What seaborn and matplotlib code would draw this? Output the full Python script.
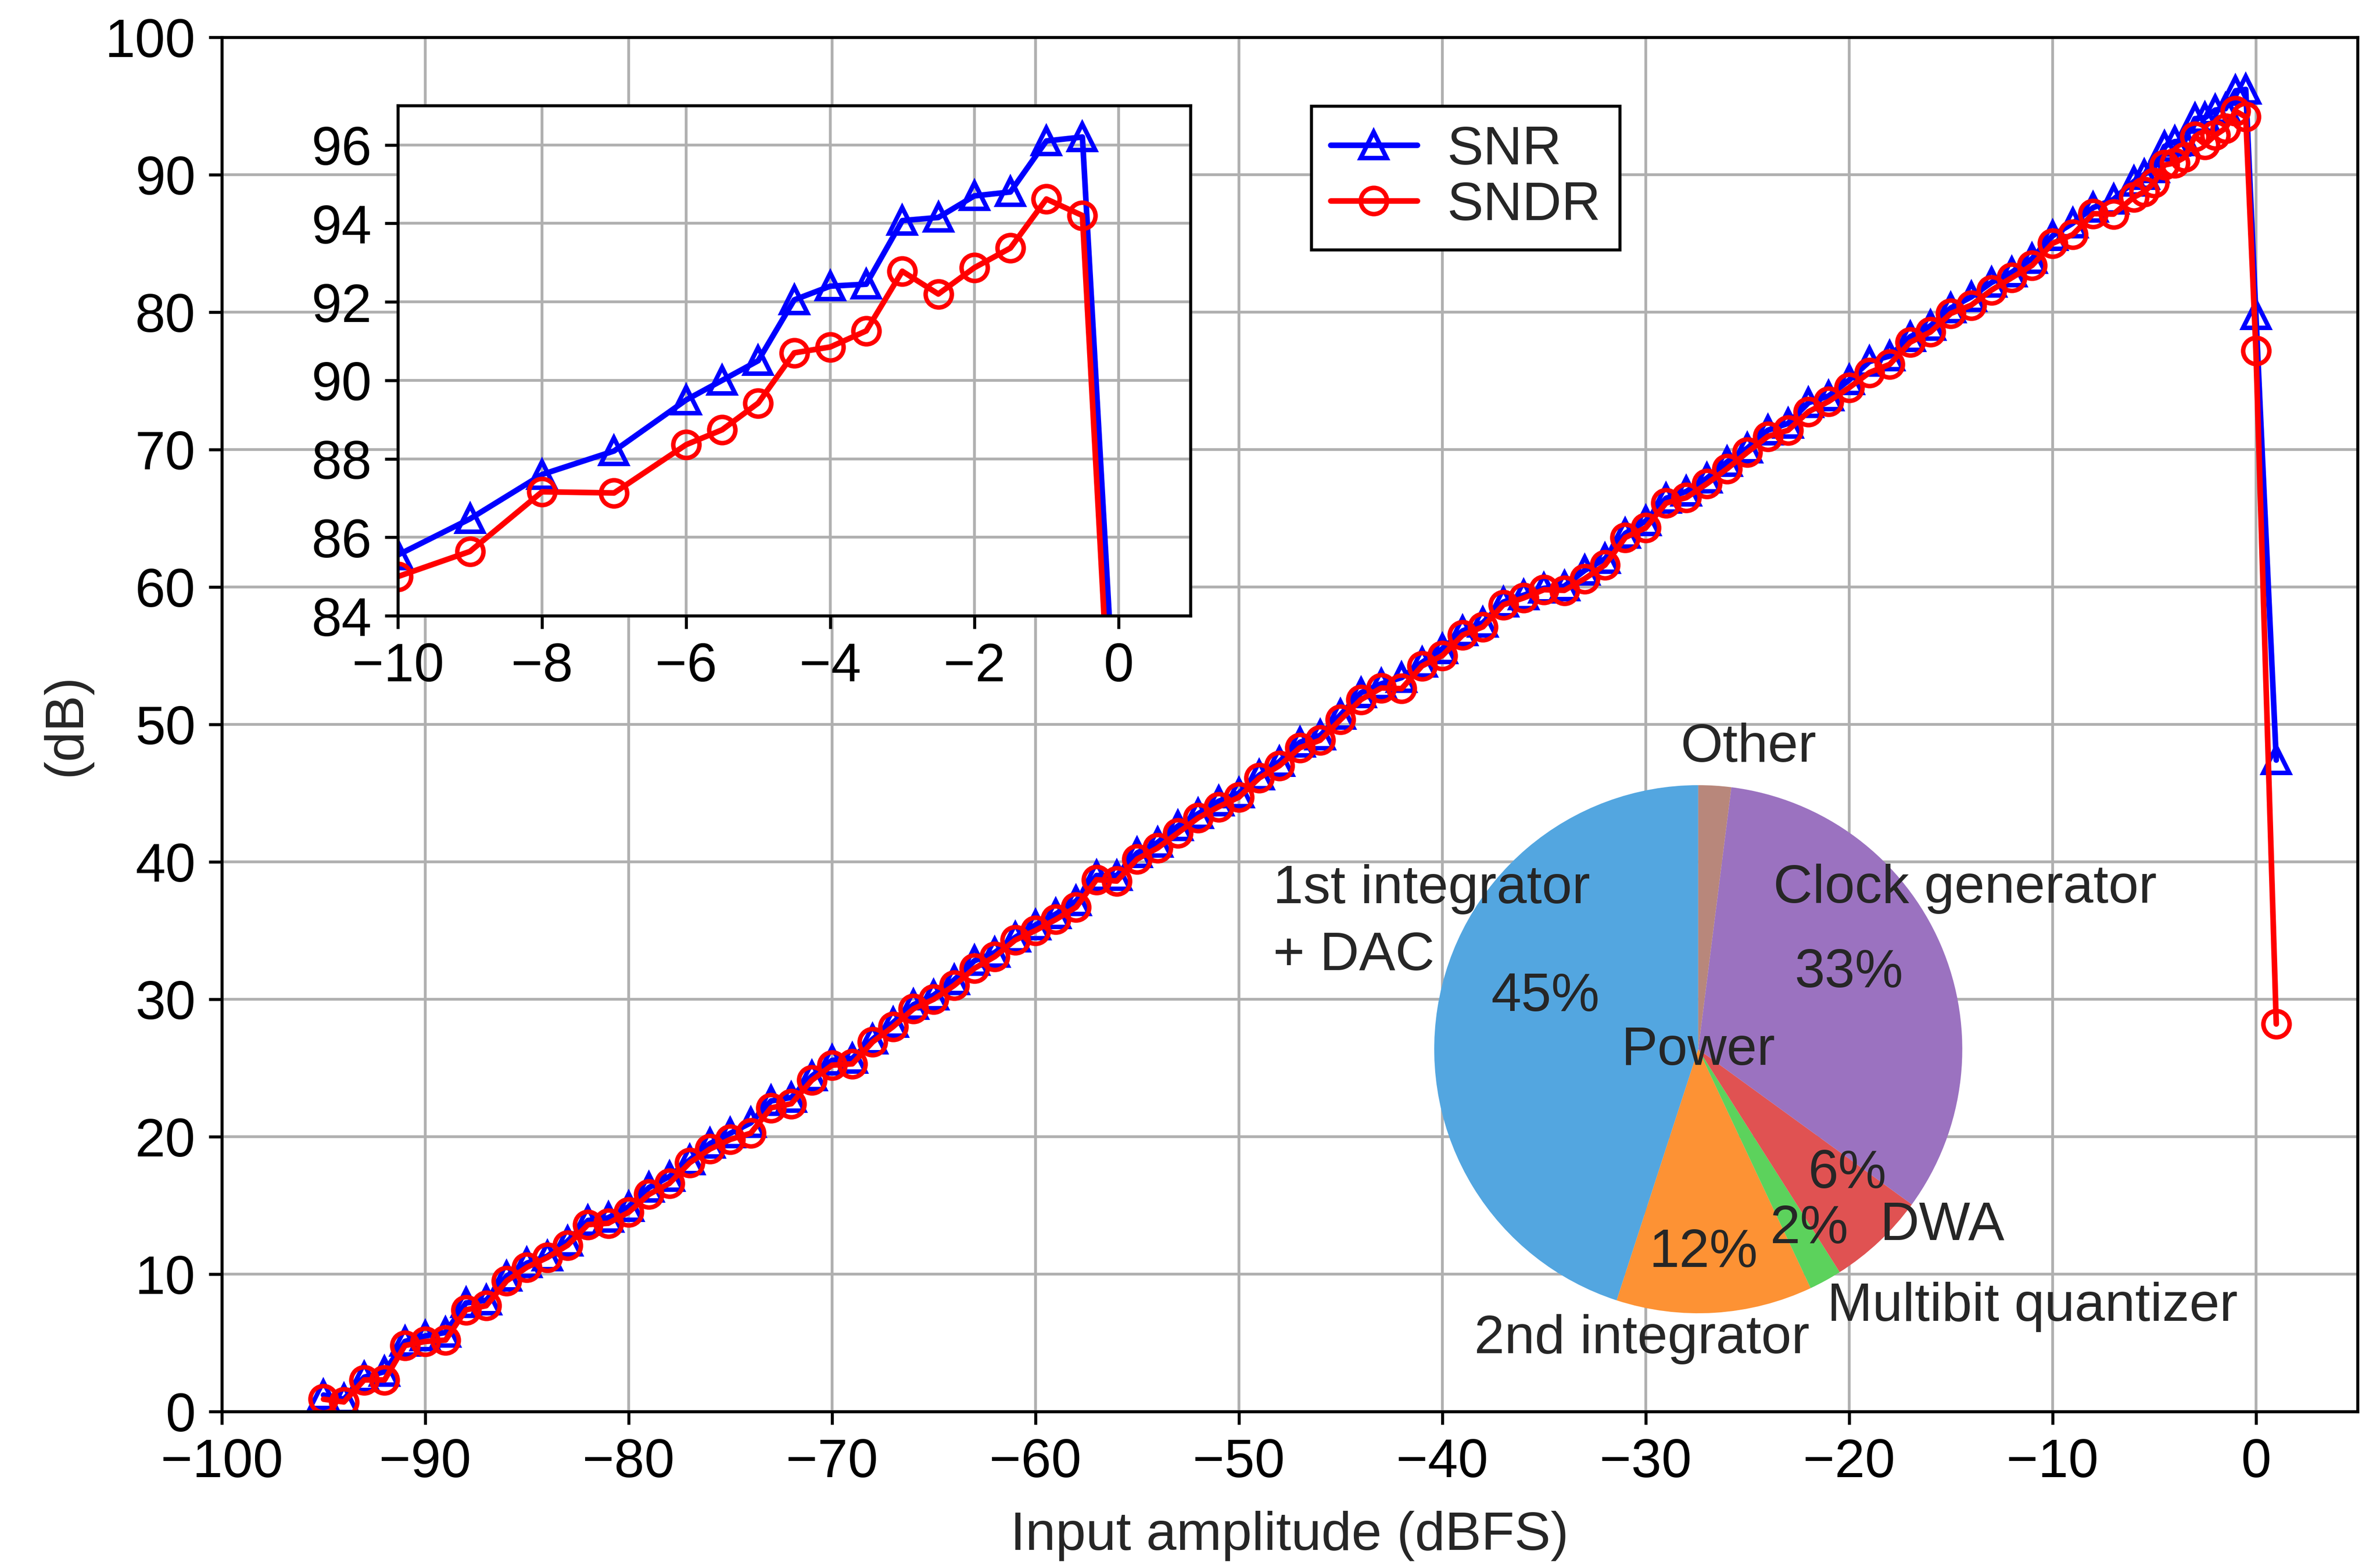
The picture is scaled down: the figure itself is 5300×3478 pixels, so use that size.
import numpy as np
import pandas as pd
import matplotlib
matplotlib.use("Agg")
import matplotlib.pyplot as plt
from matplotlib.lines import Line2D
import seaborn as sns

# %%
# Data read off the measured SNR / SNDR sweep

# input amplitude (dBFS): 1 dB steps up to -7, 0.5 dB steps after, then 0 and +1
amp = list(range(-95, -6)) + [-6, -5.5, -5, -4.5, -4, -3.5, -3, -2.5, -2, -1.5, -1, -0.5, 0, 1]

snr = [1.2, 0.9, 2.5, 2.9, 5.1, 5.5, 5.75, 7.9, 8.1, 9.85,
       10.8, 11.3, 12.4, 13.9, 14.1, 14.9, 16.3, 17.1, 18.3, 19.5,
       20.25, 21.0, 22.6, 22.85, 24.4, 25.55, 25.7, 27.1, 28.3, 29.6,
       30.3, 31.4, 32.8, 33.4, 34.5, 35.4, 36.2, 37.15, 39.0, 39.0,
       40.65, 41.4, 42.6, 43.5, 44.4, 45.0, 46.3, 47.3, 48.7, 49.2,
       50.7, 52.3, 52.95, 53.4, 54.5, 55.5, 56.8, 57.4, 58.9, 59.4,
       59.9, 60.05, 61.2, 62.05, 63.9, 64.8, 66.45, 66.95, 67.9, 69.1,
       70.1, 71.4, 71.9, 73.4, 73.9, 75.05, 76.4, 76.8, 78.2, 79.0,
       80.3, 81.1, 82.15, 82.9, 83.9, 85.55, 86.47, 87.6, 88.2,
       89.5, 90.0, 90.5, 92.05, 92.4, 92.45, 94.07, 94.15, 94.7, 94.8, 96.1, 96.2, 79.8, 47.4]

sndr = [0.9, 0.7, 2.3, 2.3, 4.8, 5.1, 5.2, 7.4, 7.7, 9.5,
        10.5, 11.2, 12.1, 13.6, 13.7, 14.5, 15.8, 16.6, 18.1, 19.1,
        19.8, 20.25, 22.1, 22.4, 24.1, 25.2, 25.3, 26.9, 28.0, 29.3,
        30.0, 31.0, 32.25, 33.1, 34.3, 35.0, 35.8, 36.7, 38.7, 38.6,
        40.2, 41.0, 42.1, 43.2, 44.0, 44.7, 46.1, 47.0, 48.3, 48.85,
        50.35, 51.8, 52.65, 52.6, 54.25, 55.0, 56.5, 57.1, 58.7, 59.2,
        59.8, 59.75, 60.6, 61.6, 63.6, 64.3, 66.1, 66.5, 67.5, 68.6,
        69.8, 70.95, 71.4, 72.75, 73.5, 74.5, 75.6, 76.2, 77.8, 78.55,
        79.9, 80.5, 81.6, 82.5, 83.4, 85.0, 85.64, 87.16, 87.13,
        88.36, 88.74, 89.42, 90.7, 90.85, 91.26, 92.78, 92.2, 92.87, 93.37, 94.62, 94.2, 77.2, 28.2]

# power breakdown (pie)
power_labels = ["1st integrator\n+ DAC", "2nd integrator", "Multibit quantizer",
                "DWA", "Clock generator", "Other"]
power_share = [45, 12, 2, 6, 33, 2]
power_pct = ["45%", "12%", "2%", "6%", "33%", ""]
power_colors = ["#53a6e0", "#fd9234", "#5cd25c", "#e05252", "#9b72c0", "#b8877b"]

df = pd.DataFrame({"amp": amp, "SNR": snr, "SNDR": sndr})

# %%
sns.set_style("ticks")
plt.rcParams['font.family'] = ['Liberation Sans', 'DejaVu Sans']
plt.rcParams['font.size'] = 14.5
plt.rcParams['axes.linewidth'] = 0.8
plt.rcParams['xtick.direction'] = 'out'
plt.rcParams['ytick.direction'] = 'out'
plt.rcParams['xtick.major.size'] = 3.5
plt.rcParams['ytick.major.size'] = 3.5
plt.rcParams['xtick.major.width'] = 0.8
plt.rcParams['ytick.major.width'] = 0.8
plt.rcParams['axes.edgecolor'] = 'black'
plt.rcParams['xtick.color'] = 'black'
plt.rcParams['ytick.color'] = 'black'

line_kw = dict(linewidth=1.5, markersize=7, markeredgewidth=1.2, markerfacecolor='none')

def draw_curves(ax):
    sns.lineplot(data=df, x="amp", y="SNR", ax=ax, color="blue", marker="^",
                 markeredgecolor="blue", **line_kw)
    sns.lineplot(data=df, x="amp", y="SNDR", ax=ax, color="red", marker="o",
                 markeredgecolor="red", **line_kw)
    ax.grid(True, color="#b0b0b0", linewidth=0.75)
    ax.set_axisbelow(True)

fig = plt.figure(figsize=(5300 / 600, 3479 / 600), dpi=600)
fig.patch.set_facecolor("white")

# main axes
ax = fig.add_axes([0.0932, 0.0963, 0.8974, 0.8796])
draw_curves(ax)
ax.set_xlim(-100, 5)
ax.set_ylim(0, 100)
ax.set_xticks(np.arange(-100, 1, 10))
ax.set_yticks(np.arange(0, 101, 10))
ax.set_xlabel("Input amplitude (dBFS)")
ax.set_ylabel("(dB)")
ax.xaxis.set_label_coords(0.5, -0.072)
ax.yaxis.set_label_coords(-0.061, 0.5)

handles = [Line2D([], [], color="blue", marker="^", **line_kw, markeredgecolor="blue"),
           Line2D([], [], color="red", marker="o", **line_kw, markeredgecolor="red")]
leg = ax.legend(handles, ["SNR", "SNDR"], loc="upper left",
                bbox_to_anchor=(0.551, 0.932), bbox_transform=fig.transFigure,
                frameon=True, fancybox=False, edgecolor="black", framealpha=1,
                handlelength=1.6, handletextpad=0.55, labelspacing=0.1,
                borderpad=0.35, borderaxespad=0)
leg.get_frame().set_linewidth(0.8)

# zoomed inset near full scale
ins = fig.add_axes([0.1672, 0.6056, 0.3330, 0.3265])
ins.set_facecolor("white")
draw_curves(ins)
ins.set_xlim(-10, 1)
ins.set_ylim(84, 97)
ins.set_xticks(np.arange(-10, 1, 2))
ins.set_yticks(np.arange(84, 97, 2))
ins.set_xlabel("")
ins.set_ylabel("")

# power breakdown pie
pie_ax = fig.add_axes([0.6026, 0.1592, 0.2219, 0.3380])
pie_ax.pie(power_share, colors=power_colors, startangle=90, counterclock=True,
           radius=1, wedgeprops=dict(linewidth=0))
pie_ax.set_xlim(-1, 1)
pie_ax.set_ylim(-1, 1)
pie_ax.set_aspect("equal")
pie_ax.axis("off")

# label anchor (x, y of first line, alignment); extra lines go below by line_step
label_pos = {"1st integrator\n+ DAC": (-1.61, 0.607, "left"),
             "2nd integrator": (-0.213, -1.096, "center"),
             "Multibit quantizer": (1.265, -0.974, "center"),
             "DWA": (0.924, -0.668, "center"),
             "Clock generator": (1.01, 0.61, "center"),
             "Other": (0.19, 1.143, "center")}
line_step = 0.253
pct_pos = [(-0.58, 0.20), (0.02, -0.77), (0.42, -0.68), (0.565, -0.47), (0.57, 0.29), None]

for lab, pct, pp in zip(power_labels, power_pct, pct_pos):
    lx, ly, ha = label_pos[lab]
    for k, part in enumerate(lab.split("\n")):
        pie_ax.text(lx, ly - k * line_step, part, ha=ha, va="center",
                    fontsize=14.5, clip_on=False)
    if pp is not None:
        pie_ax.text(pp[0], pp[1], pct, ha="center", va="center", fontsize=14.5, clip_on=False)
pie_ax.text(0, -0.005, "Power", ha="center", va="center", fontsize=14.5)

fig.savefig("out.png", dpi=600, facecolor="white")
